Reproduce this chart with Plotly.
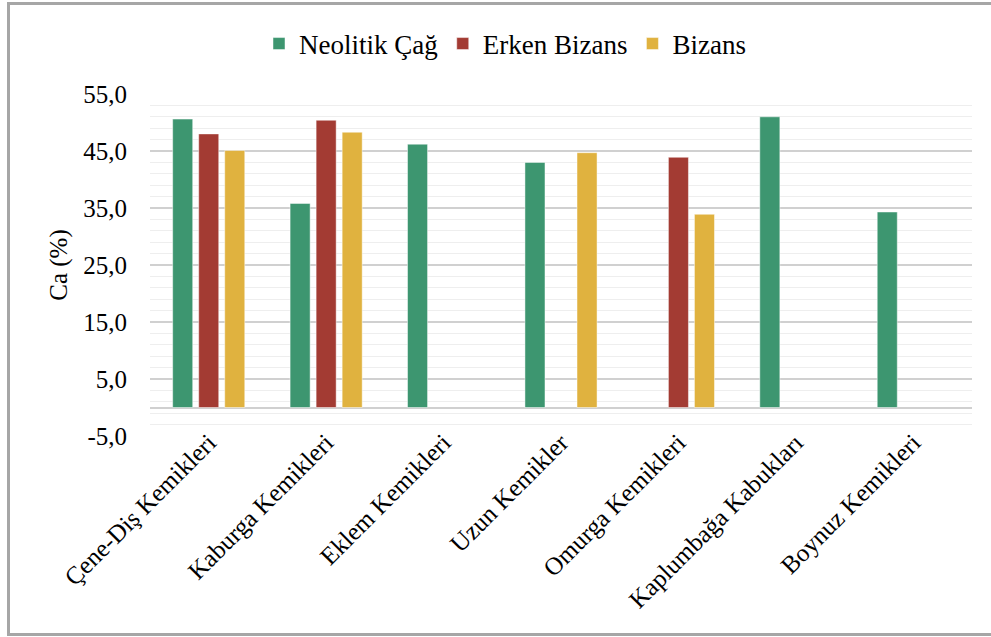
import plotly.graph_objects as go

categories = ["Çene-Diş Kemikleri", "Kaburga Kemikleri", "Eklem Kemikleri", "Uzun Kemikler",
              "Omurga Kemikleri", "Kaplumbağa Kabukları", "Boynuz Kemikleri"]
neolitik = [50.6, 35.8, 46.2, 43.0, None, 51.0, 34.3]
erken_bizans = [48.0, 50.4, None, None, 43.9, None, None]
bizans = [45.1, 48.3, None, 44.7, 33.9, None, None]

series_names = ["Neolitik Çağ", "Erken Bizans", "Bizans"]
y_tick_values = [-5, 5, 15, 25, 35, 45, 55]
y_tick_labels = ["-5,0", "5,0", "15,0", "25,0", "35,0", "45,0", "55,0"]

colors = ["#3d9670", "#a33b33", "#e0b23f"]
FONT = "Liberation Serif"

fig = go.Figure()
for name, vals, col in zip(series_names, [neolitik, erken_bizans, bizans], colors):
    fig.add_trace(go.Bar(x=categories, y=vals, name=name,
                         marker=dict(color=col, line=dict(color="rgba(255,255,255,0.6)", width=0.8))))

L, R, T, B = 150, 19, 94, 201
W, H = 991, 637
pw, ph = W - L - R, H - T - B

def px_x(x):
    return (x - L) / pw

def px_y(y):
    return (H - B - y) / ph

fig.update_layout(
    width=W, height=H,
    margin=dict(l=L, r=R, t=T, b=B, pad=0, autoexpand=False),
    plot_bgcolor="white", paper_bgcolor="white",
    barmode="group", bargap=0.335, bargroupgap=0.23,
    font=dict(family=FONT, size=25, color="#000000"),
    legend=dict(orientation="h", x=px_x(259), y=px_y(44), xanchor="left", yanchor="middle",
                font=dict(family=FONT, size=27, color="#000000"), itemwidth=30,
                tracegroupgap=0, bgcolor="rgba(0,0,0,0)"),
    xaxis=dict(tickangle=-45, showgrid=False, showline=False, ticks="", automargin=False,
               ticklabelstandoff=-14,
               tickfont=dict(family=FONT, size=25, color="#000000")),
    yaxis=dict(range=[-5, 55], tickmode="array", tickvals=y_tick_values, ticktext=y_tick_labels,
               automargin=False,
               showgrid=True, gridcolor="#d0d0d0", gridwidth=1.5,
               zeroline=True, zerolinecolor="#d0d0d0", zerolinewidth=1.5,
               minor=dict(tickmode="linear", tick0=-5, dtick=2, showgrid=True,
                          gridcolor="#eeeeee", gridwidth=1),
               ticks="", ticklabelstandoff=22,
               tickfont=dict(family=FONT, size=25, color="#000000"),
               title=dict(text="Ca (%)", standoff=8, font=dict(family=FONT, size=25, color="#000000"))),
    shapes=[dict(type="rect", xref="paper", yref="paper",
                 x0=px_x(8.5), x1=px_x(996), y0=px_y(634.5), y1=px_y(3.5),
                 line=dict(color="#a6a6a6", width=3), fillcolor="rgba(0,0,0,0)", layer="above")],
)

fig.write_html("out.html")
